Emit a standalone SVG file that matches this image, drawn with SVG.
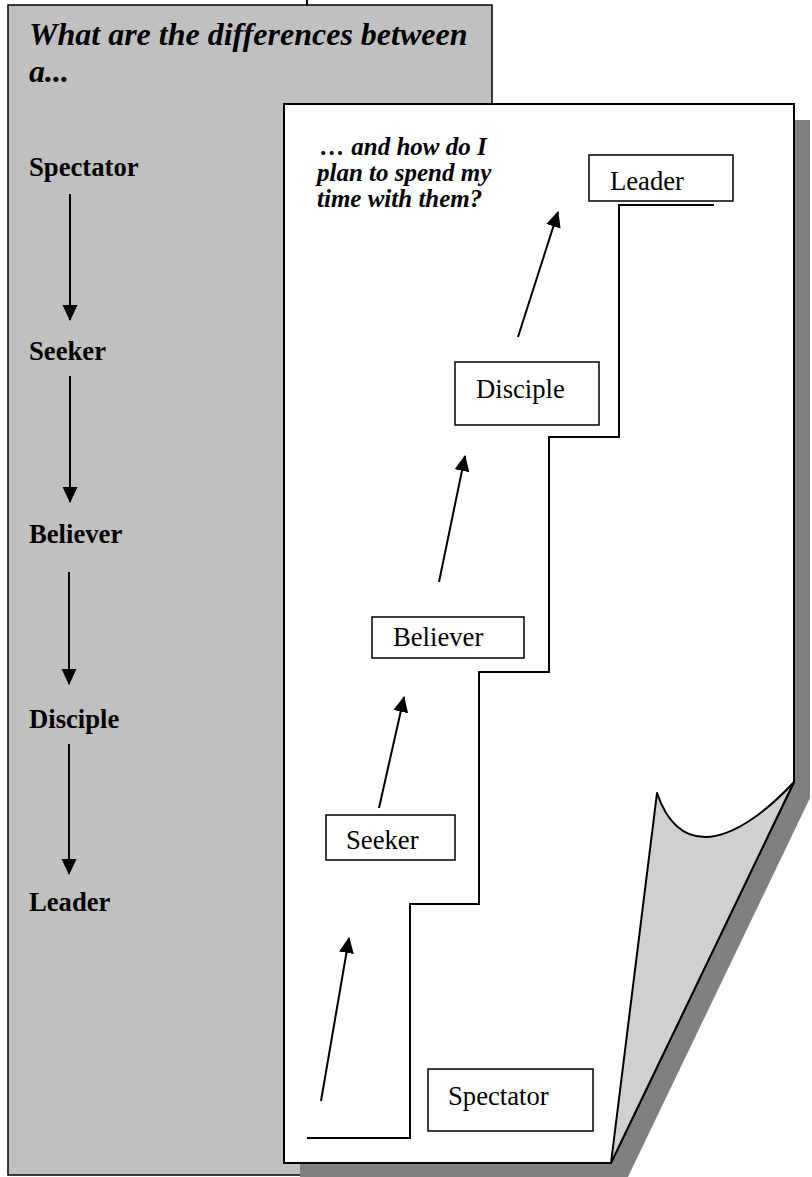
<svg xmlns="http://www.w3.org/2000/svg" width="812" height="1177" viewBox="0 0 812 1177">
<defs>
<style>
.panel{fill:#c0c0c0;stroke:#000;stroke-width:1.5}
.page{fill:#fff;stroke:#000;stroke-width:2}
.shadow{fill:#808080;stroke:none}
.curl{fill:#d0d0d0;stroke:#000;stroke-width:2;stroke-linejoin:round}
.box{fill:#fff;stroke:#000;stroke-width:1.5}
.ln{fill:none;stroke:#000;stroke-width:2}
.arr{fill:none;stroke:#000;stroke-width:2;marker-end:url(#ah)}
.t{font-family:"Liberation Serif","Times New Roman",serif;fill:#000}
.title{font-size:32px;font-weight:bold;font-style:italic}
.lbl{font-size:26.67px;font-weight:bold}
.q{font-size:25px;font-weight:bold;font-style:italic}
.bx{font-size:26.67px}
</style>
<marker id="ah" markerUnits="userSpaceOnUse" markerWidth="16" markerHeight="16" viewBox="0 0 16 16" refX="15" refY="8" orient="auto">
<path d="M0,0.5 L16,8 L0,15.5 Z" fill="#000"/>
</marker>
</defs>

<g id="background">
<line class="ln" x1="307" y1="0" x2="307" y2="6" stroke-width="1.5"/>
<rect id="panel" class="panel" x="8" y="5" width="484" height="1170"/>
<path class="shadow" d="M300,120 H810 V798 L627,1179 H300 Z"/>
<path id="page" class="page" d="M284,104 H794 V782 L611,1163 H284 Z"/>
<path id="curl" class="curl" d="M611,1163 L657,793 C668,825 685,837 705,837 C735,837 770,808 794,782 Z"/>
</g>

<g id="left-text">
<text class="t title" x="29" y="45">What are the differences between</text>
<text class="t title" x="29" y="82">a...</text>
</g>

<g id="left-spectator"><text class="t lbl" x="29" y="176">Spectator</text></g>
<g id="left-seeker"><text class="t lbl" x="29" y="360">Seeker</text></g>
<g id="left-believer"><text class="t lbl" x="29" y="543">Believer</text></g>
<g id="left-disciple"><text class="t lbl" x="29" y="728">Disciple</text></g>
<g id="left-leader"><text class="t lbl" x="29" y="911">Leader</text></g>

<g id="question">
<text class="t q" x="320" y="155">… and how do I</text>
<text class="t q" x="317" y="181">plan to spend my</text>
<text class="t q" x="317" y="207">time with them?</text>
</g>

<g id="box-leader">
<rect class="box" x="589" y="155" width="144" height="46"/>
<text class="t bx" x="610" y="190">Leader</text>
</g>
<g id="box-disciple">
<rect class="box" x="455" y="362" width="144" height="63"/>
<text class="t bx" x="476" y="398">Disciple</text>
</g>
<g id="box-believer">
<rect class="box" x="372" y="617" width="152" height="41"/>
<text class="t bx" x="393" y="646">Believer</text>
</g>
<g id="box-seeker">
<rect class="box" x="326" y="815" width="129" height="45"/>
<text class="t bx" x="346" y="849">Seeker</text>
</g>
<g id="box-spectator">
<rect class="box" x="428" y="1069" width="165" height="62"/>
<text class="t bx" x="448" y="1105">Spectator</text>
</g>

<g id="connectors">
<line class="arr" x1="70" y1="194" x2="70" y2="320"/>
<line class="arr" x1="70" y1="376" x2="70" y2="502"/>
<line class="arr" x1="69" y1="572" x2="69" y2="684"/>
<line class="arr" x1="69" y1="744" x2="69" y2="874"/>
<path class="ln" d="M714,205 H619 V437 H549 V672 H479 V904 H410 V1138 H307"/>
<line class="arr" x1="321" y1="1101" x2="349" y2="938"/>
<line class="arr" x1="379" y1="808" x2="404" y2="697"/>
<line class="arr" x1="439" y1="582" x2="465" y2="456"/>
<line class="arr" x1="518" y1="337" x2="558" y2="212"/>
</g>
</svg>
